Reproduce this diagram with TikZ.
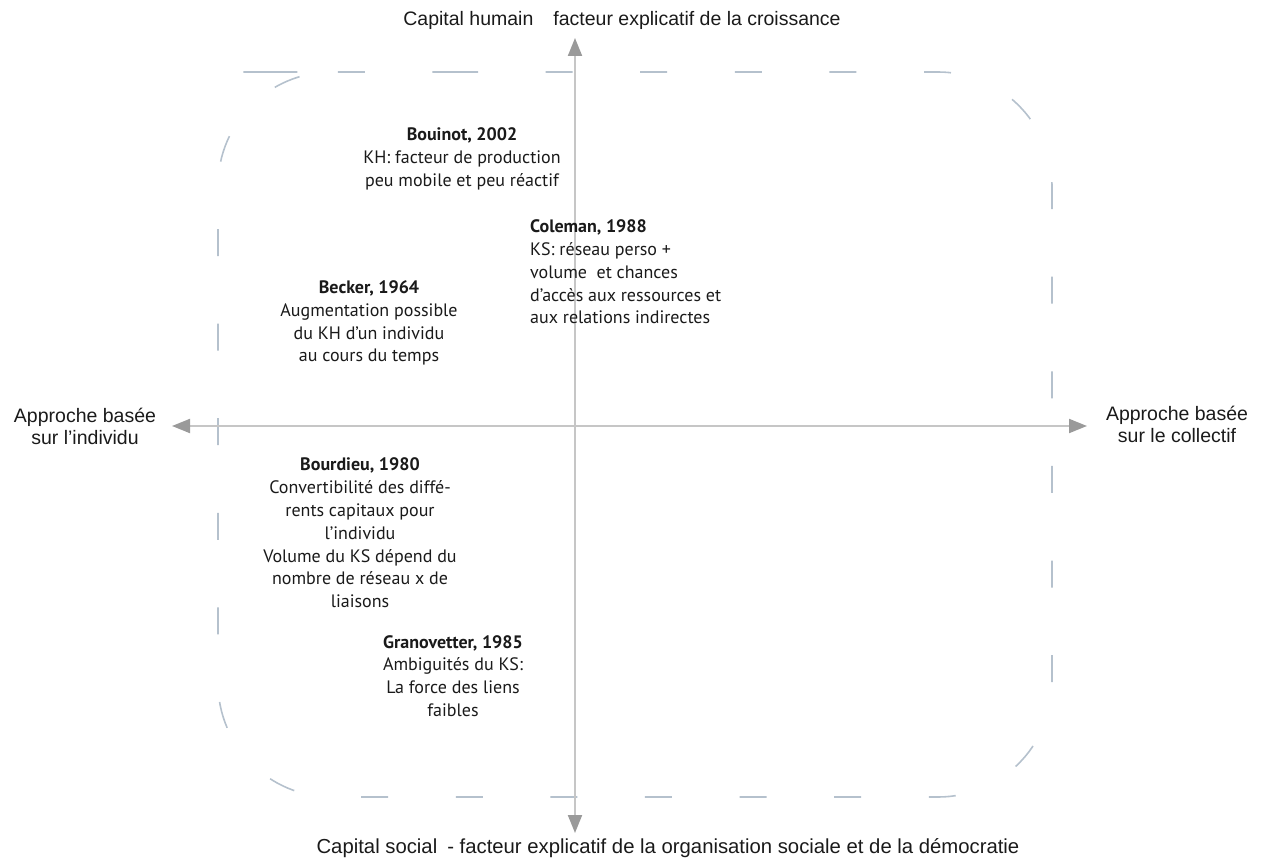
\documentclass[tikz,border=0pt]{standalone}
\usepackage{fontspec}
\setmainfont{PT Sans}
\newfontfamily\arialfont{Liberation Sans}
\usetikzlibrary{arrows.meta}
\definecolor{dashc}{HTML}{B5C1CD}
\definecolor{axisc}{HTML}{C6C6C6}
\definecolor{tipc}{HTML}{9A9A9A}
\definecolor{txt}{HTML}{1A1A1A}
\begin{document}
\begin{tikzpicture}[x=1pt,y=-1pt,
  lbl/.style={font=\arialfont\fontsize{19.5}{22}\selectfont, text=txt, align=center, inner sep=0pt},
  body/.style={font=\fontsize{18}{22.8}\selectfont, text=txt, align=center, inner sep=0pt},
  axisline/.style={draw=axisc, line width=2pt,
    {Triangle[length=18pt,width=14pt,color=tipc]}-{Triangle[length=18pt,width=14pt,color=tipc]}},
  frame/.style={draw=dashc, line width=1.6pt, dash pattern=on 27pt off 67.6pt, rounded corners=114pt}]
\useasboundingbox (0,0) rectangle (1261,859);

% dashed rounded frame
\draw[frame] (337,72) -- (1052,72) -- (1052,797) -- (218,797) -- (218,72) -- cycle;

% axes
\coordinate (ytop) at (575,38);
\coordinate (ybot) at (575,833);
\coordinate (xleft) at (172,426);
\coordinate (xright) at (1087,426);
\draw[axisline] (ybot) -- (ytop);
\draw[axisline] (xleft) -- (xright);

% axis labels
\node[lbl] (top) at (622,20) {Capital humain\hspace{20pt}facteur explicatif de la croissance};
\node[lbl, font=\arialfont\fontsize{20.3}{22}\selectfont] (bottom) at (668,848) {Capital social\hspace{10pt}- facteur explicatif de la organisation sociale et de la démocratie};
\node[lbl] (left) at (85,426) {Approche basée\\sur l’individu};
\node[lbl] (right) at (1177,424) {Approche basée\\sur le collectif};

% text blocks
\node[body] (bouinot) at (462,159) {\textbf{Bouinot, 2002}\\KH: facteur de production\\peu mobile et peu réactif};
\node[body, align=left, anchor=west] (coleman) at (530,272) {\textbf{Coleman, 1988}\\KS: réseau perso +\\volume\ \ et chances\\d’accès aux ressources et\\aux relations indirectes};
\node[body] (becker) at (369,323) {\textbf{Becker, 1964}\\Augmentation possible\\du KH d’un individu\\au cours du temps};
\node[body] (bourdieu) at (360,533) {\textbf{Bourdieu, 1980}\\Convertibilité des diffé-\\rents capitaux pour\\l’individu\\Volume du KS dépend du\\nombre de réseau x de\\liaisons};
\node[body] (granovetter) at (453,676) {\textbf{Granovetter, 1985}\\Ambiguités du KS:\\La force des liens\\faibles};
\end{tikzpicture}
\end{document}
